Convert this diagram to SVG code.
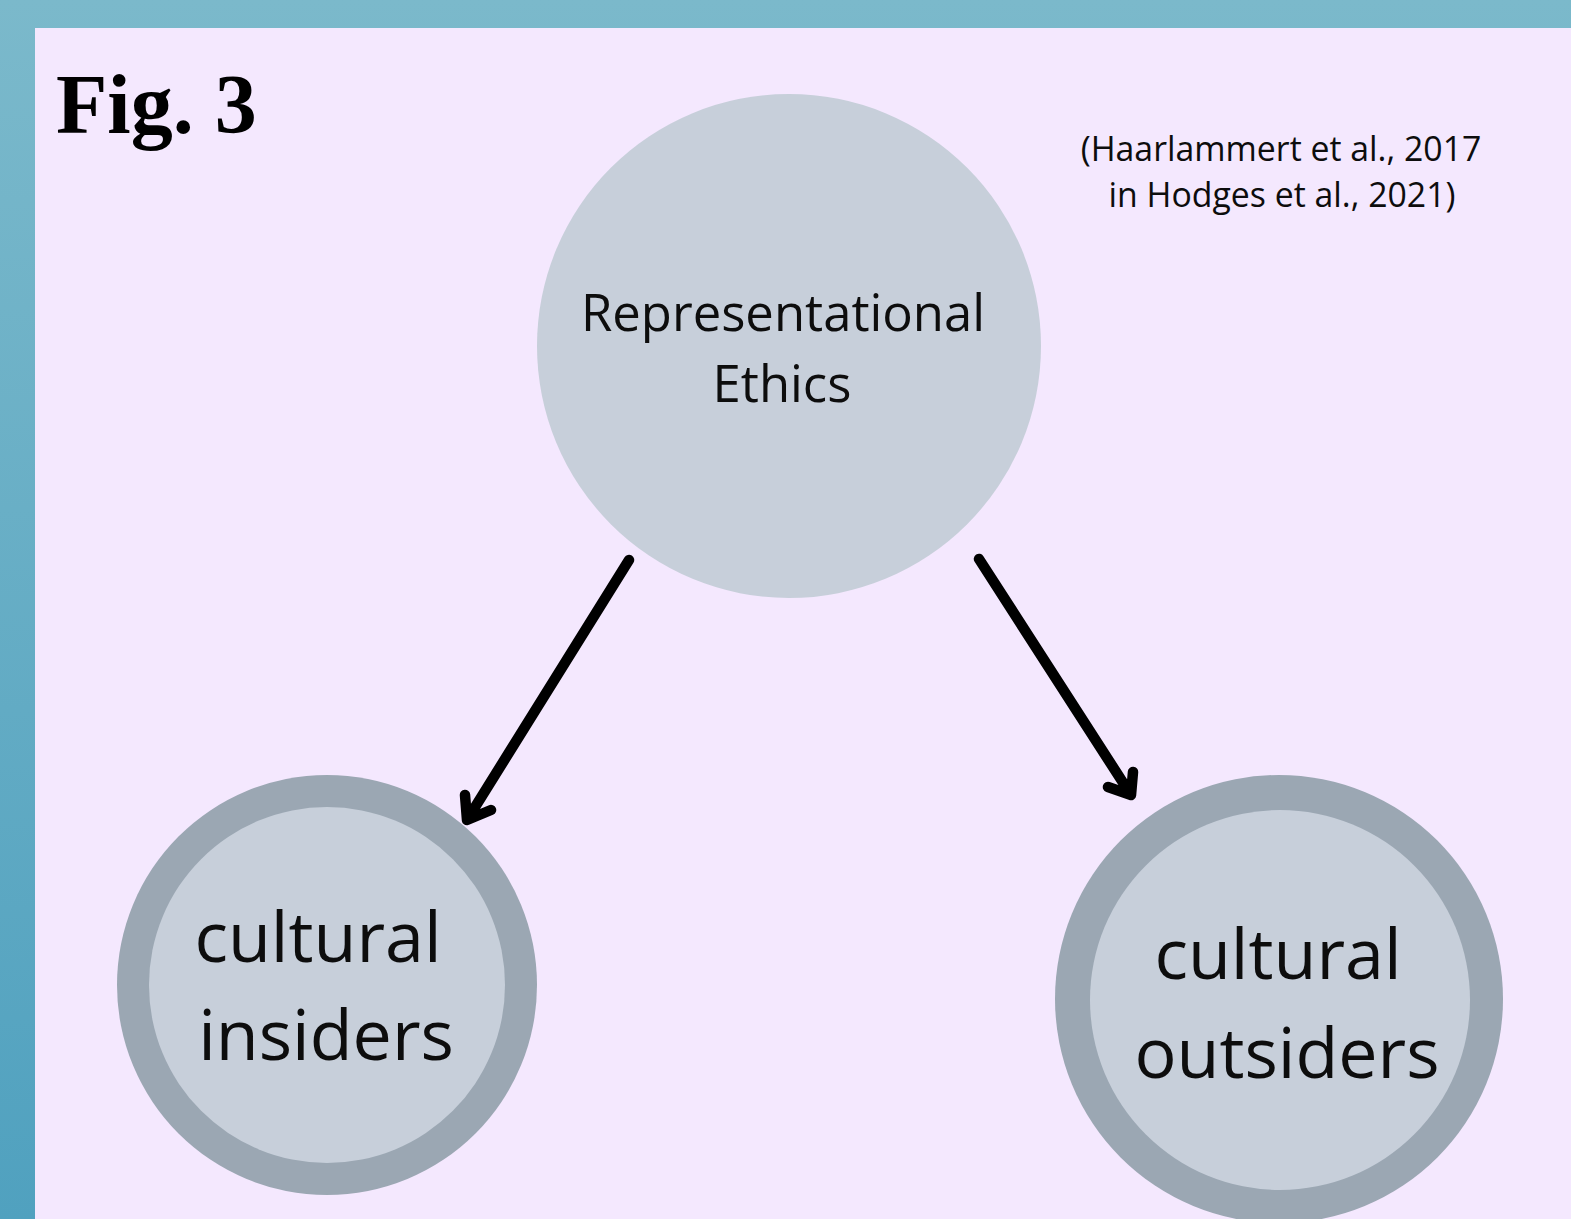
<svg xmlns="http://www.w3.org/2000/svg" width="1571" height="1219" viewBox="0 0 1571 1219">
  <defs>
    <linearGradient id="bg" x1="0" y1="0" x2="0" y2="1">
      <stop offset="0" stop-color="#7bb9cb"/>
      <stop offset="1" stop-color="#50a1bf"/>
    </linearGradient>
    <style>
      .lbl { font-family: "Open Sans", "Noto Sans", sans-serif; fill: #0d0d0d; text-anchor: middle; }
      .disc { fill: #c7cfda; }
      .ring { fill: #9ba7b3; }
      .conn { stroke: #000; stroke-width: 10.5; stroke-linecap: round; stroke-linejoin: round; fill: none; }
    </style>
  </defs>
  <rect x="0" y="0" width="1571" height="1219" fill="url(#bg)"/>
  <rect x="35" y="28" width="1536" height="1191" fill="#f4e8fe"/>
  <text x="56" y="133" font-family="'Liberation Serif', 'Times New Roman', serif" font-weight="bold" font-size="84" fill="#000">Fig. 3</text>
  <text class="lbl" font-size="33.8"><tspan x="1281" y="161">(Haarlammert et al., 2017</tspan><tspan x="1282" y="207">in Hodges et al., 2021)</tspan></text>

  <g id="node-ethics">
    <circle class="disc" cx="789" cy="346" r="252"/>
    <text class="lbl" font-size="50.8"><tspan x="783" y="331">Representational</tspan><tspan x="782" y="402">Ethics</tspan></text>
  </g>
  <g id="node-insiders">
    <circle class="ring" cx="327" cy="985" r="210"/>
    <circle class="disc" cx="327" cy="985" r="178"/>
    <text class="lbl" font-size="70"><tspan x="318" y="962">cultural</tspan><tspan x="326" y="1060">insiders</tspan></text>
  </g>
  <g id="node-outsiders">
    <circle class="ring" cx="1279" cy="999" r="224"/>
    <circle class="disc" cx="1280" cy="1000" r="190"/>
    <text class="lbl" font-size="70"><tspan x="1278" y="979">cultural</tspan><tspan x="1287" y="1078">outsiders</tspan></text>
  </g>

  <g id="connectors">
    <path class="conn" d="M629 560 L467 820 M465 795 L467 820 L491 810"/>
    <path class="conn" d="M979 559 L1131 795 M1133 772 L1131 795 L1108 787"/>
  </g>
</svg>
